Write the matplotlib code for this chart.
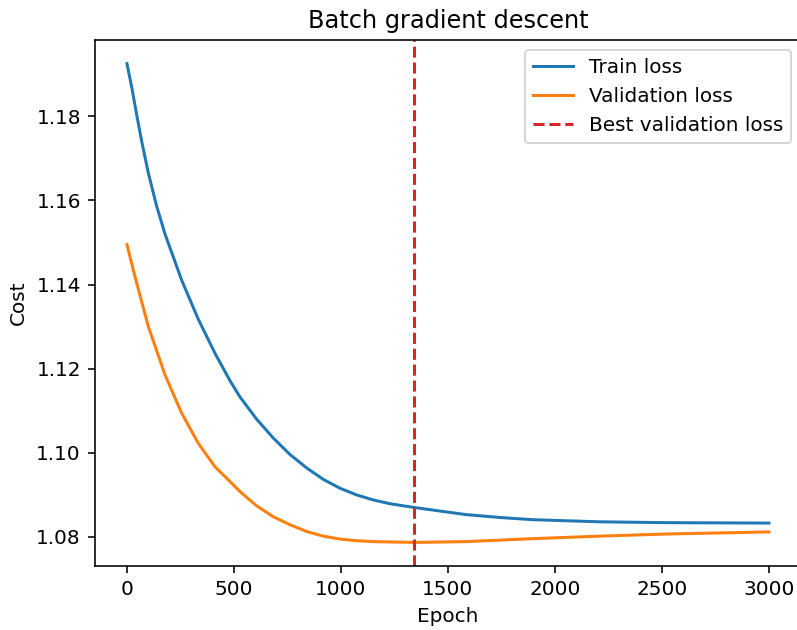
import matplotlib
matplotlib.use('Agg')
import matplotlib.pyplot as plt

# values
train_epochs = [0, 22, 45, 69, 100, 139, 178, 256, 333, 411, 481, 528, 606, 684, 762, 840, 917,
                995, 1073, 1151, 1229, 1343, 1486, 1587, 1750, 1899, 2210, 2522, 3000]
train_loss = [1.1925, 1.1870, 1.1805, 1.1740, 1.1665, 1.1586, 1.1520, 1.1410, 1.1318, 1.1237,
              1.1172, 1.1133, 1.1080, 1.1035, 1.0996, 1.0964, 1.0937, 1.0916, 1.0900, 1.0888,
              1.0879, 1.0870, 1.0860, 1.0853, 1.0846, 1.0841, 1.0836, 1.0834, 1.0833]

val_epochs = [0, 37, 100, 178, 256, 333, 411, 481, 528, 606, 684, 762, 840, 917, 995, 1073,
              1151, 1343, 1587, 1899, 2210, 2522, 3000]
val_loss = [1.1495, 1.1420, 1.1300, 1.1185, 1.1094, 1.1023, 1.0967, 1.0932, 1.0908, 1.0874,
            1.0848, 1.0829, 1.0813, 1.0802, 1.0795, 1.0791, 1.0789, 1.0787, 1.0789, 1.0796,
            1.0802, 1.0807, 1.0812]

best_epoch = 1343

fig, ax = plt.subplots(figsize=(797 / 144, 630 / 144), dpi=144)
ax.plot(train_epochs, train_loss, label='Train loss')
ax.plot(val_epochs, val_loss, label='Validation loss')
ax.axvline(best_epoch, color='tab:red', linestyle='--', label='Best validation loss')
ax.set_title('Batch gradient descent')
ax.set_xlabel('Epoch')
ax.set_ylabel('Cost')
ax.legend(loc='upper right')
plt.subplots_adjust(left=0.119, right=1.005, top=0.937, bottom=0.101)
plt.savefig('out.png')
